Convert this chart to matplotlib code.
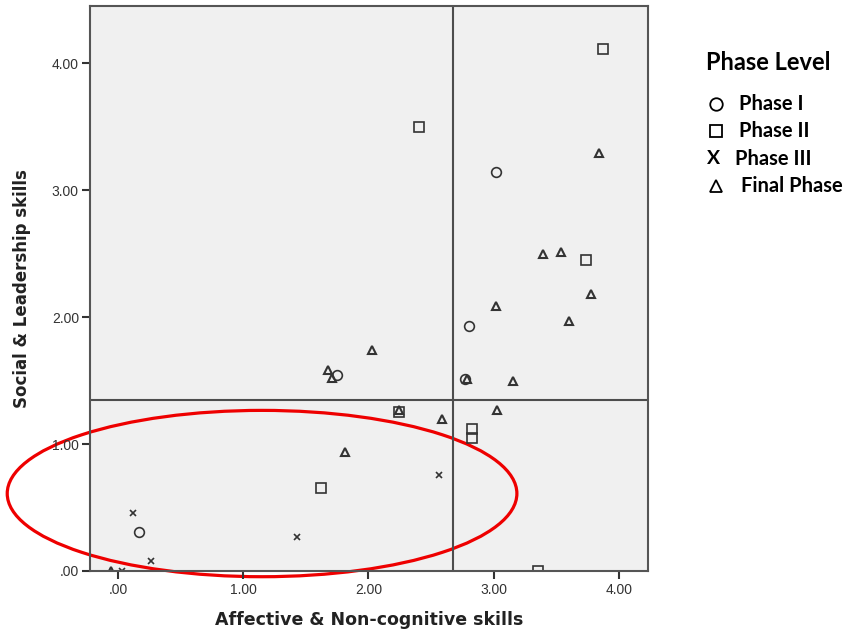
import matplotlib.pyplot as plt
from matplotlib.patches import Ellipse
from matplotlib.lines import Line2D

# Scores per phase: (affective & non-cognitive, social & leadership)
phase1_x = [3.02, 2.80, 1.75, 2.77, 0.17]
phase1_y = [3.14, 1.93, 1.54, 1.51, 0.31]

phase2_x = [3.87, 2.40, 3.74, 2.24, 2.83, 2.83, 1.62, 3.35]
phase2_y = [4.11, 3.50, 2.45, 1.25, 1.12, 1.05, 0.65, 0.00]

phase3_x = [2.56, 0.12, 1.43, 0.26, 0.03]
phase3_y = [0.76, 0.46, 0.27, 0.08, 0.00]

final_x = [3.84, 3.39, 3.54, 3.02, 3.78, 3.60, 2.03, 1.68, 1.71, 2.79,
           3.15, 2.24, 2.59, 3.03, 1.81, -0.06]
final_y = [3.29, 2.50, 2.51, 2.09, 2.18, 1.97, 1.74, 1.58, 1.52, 1.51,
           1.50, 1.27, 1.20, 1.27, 0.94, 0.00]

# Mean reference lines
x_ref = 2.675
y_ref = 1.345

ticks = [0, 1, 2, 3, 4]
tick_labels = ['.00', '1.00', '2.00', '3.00', '4.00']

edge = '#333333'

fig = plt.figure(figsize=(8.52, 6.33), dpi=100)
ax = fig.add_axes([90 / 852, 62 / 633, 558 / 852, 565 / 633])
ax.set_facecolor('#f0f0f0')

ax.plot(phase1_x, phase1_y, 'o', ms=7, mfc='none', mec=edge, mew=1.2, ls='none')
ax.plot(phase2_x, phase2_y, 's', ms=7, mfc='none', mec=edge, mew=1.2, ls='none')
ax.plot(phase3_x, phase3_y, 'x', ms=5, mec=edge, mew=1.2, ls='none')
ax.plot(final_x, final_y, '^', ms=6, mfc='none', mec=edge, mew=1.5, ls='none')

ax.axvline(x_ref, color='#4d4d4d', lw=1.5)
ax.axhline(y_ref, color='#4d4d4d', lw=1.5)

ax.set_xlim(-0.224, 4.232)
ax.set_ylim(0, 4.45)

ax.set_xticks(ticks)
ax.set_xticklabels(tick_labels, family='Liberation Sans')
ax.set_yticks(ticks)
ax.set_yticklabels(tick_labels, family='Liberation Sans')
ax.tick_params(axis='both', direction='out', length=6, width=1.5,
               color='#333333', labelsize=10, labelcolor='#333333', pad=3)
ax.tick_params(axis='y', pad=2)

for side in ['top', 'right', 'bottom', 'left']:
    ax.spines[side].set_color('#555555')
    ax.spines[side].set_linewidth(1.5)

ax.set_xlabel('Affective & Non-cognitive skills', fontsize=12.5,
              fontweight='bold', color='#222222', labelpad=10)
ax.set_ylabel('Social & Leadership skills', fontsize=12,
              fontweight='bold', color='#222222', labelpad=15)

# Highlight of the low-scoring cluster
ax.add_patch(Ellipse((1.15, 0.61), 4.07, 1.31, fill=False,
                     edgecolor='#ee0000', lw=2.3, clip_on=False))

# Legend
fig.text(706 / 852, 1 - 63 / 633, 'Phase Level', fontsize=17,
         fontweight='bold', family='Lato', va='center', ha='left')
entries = [('o', 'Phase I', 739), ('s', 'Phase II', 739),
           ('X', 'Phase III', 735), ('^', 'Final Phase', 741)]
for i, (mk, label, tx) in enumerate(entries):
    yy = 1 - (104 + i * 27.3) / 633
    if mk == 'X':
        fig.text(714 / 852, yy, 'X', fontsize=14, fontweight='bold',
                 family='Lato', va='center', ha='center')
    else:
        fig.add_artist(Line2D([716 / 852], [yy], marker=mk, ms=9,
                              mfc='none', mec='black', mew=1.3,
                              transform=fig.transFigure))
    fig.text(tx / 852, yy, label, fontsize=14.5, fontweight='bold',
             family='Lato', va='center', ha='left')

fig.savefig('out.png', dpi=100)
